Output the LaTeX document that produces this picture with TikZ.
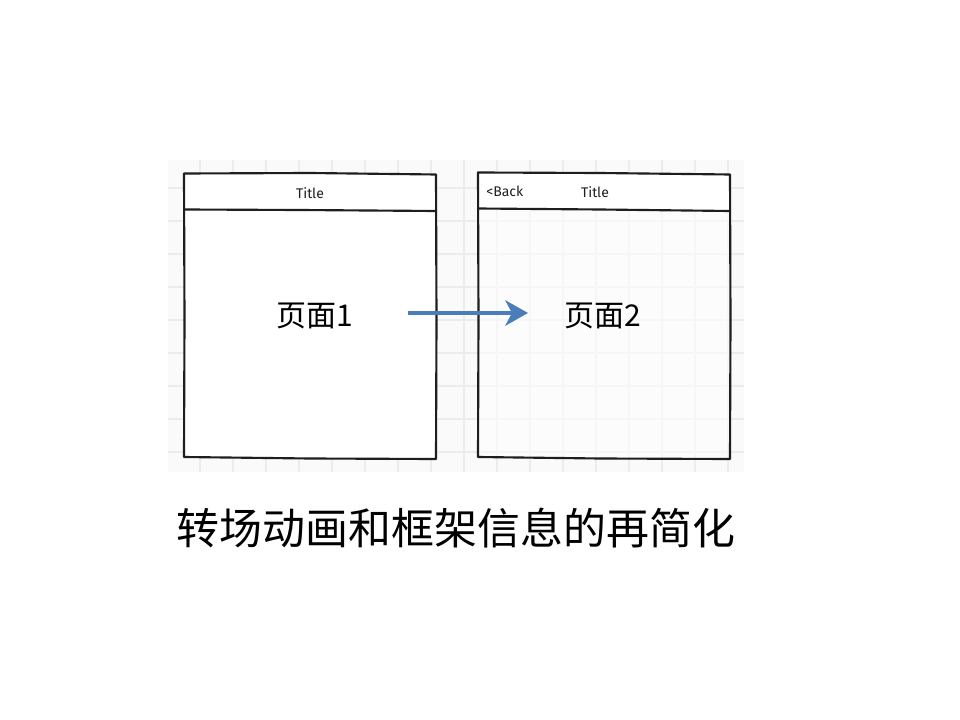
\documentclass[tikz,border=0pt]{standalone}
\usepackage{fontspec}
\newfontfamily\cjk{Noto Sans CJK SC}
\newfontfamily\uifont{Fira Sans}
\usetikzlibrary{arrows.meta}
\definecolor{gridline}{RGB}{236,236,236}
\definecolor{gridbg}{RGB}{250,250,250}
\definecolor{ink}{RGB}{30,30,30}
\definecolor{flow}{RGB}{74,126,187}
\tikzset{
  sketch/.style={draw=ink, line width=1.6pt, line join=round, line cap=round},
  smalltext/.style={font=\uifont\fontsize{10.5}{12}\selectfont, text=ink, inner sep=0pt},
  pagetext/.style={font=\cjk\fontsize{22.5}{26}\selectfont, text=black, inner sep=0pt},
  captiontext/.style={font=\cjk\fontsize{32.2}{38}\selectfont, text=black, inner sep=0pt},
  flowarrow/.style={draw=flow, line width=3pt, -{Stealth[length=17pt,width=19pt,inset=5pt]}}
}
\begin{document}
\begin{tikzpicture}[x=0.75pt,y=-0.75pt]
\useasboundingbox (0,0) rectangle (960,720);
\fill[white] (0,0) rectangle (960,720);

% grid canvas
\fill[gridbg] (168,160) rectangle (744,472);
\foreach \gx in {200,233,...,740} \draw[gridline, line width=0.9pt] (\gx,160) -- (\gx,472);
\foreach \gy in {188,221,...,470} \draw[gridline, line width=0.9pt] (168,\gy) -- (744,\gy);

% first page: opaque body
\fill[white] (184,174) -- (436,174) -- (436,459) -- (184,457) -- cycle;
\draw[sketch] (184,173.5) -- (310,173) -- (436,174.5) -- (436.5,320) -- (436,459)
  -- (310,458.5) -- (184,457) -- (184.5,320) -- cycle;
\draw[sketch] (184,209.5) -- (300,210) -- (436,211);

% second page: translucent body
\fill[white, fill opacity=0.55] (478,173) -- (730,174) -- (730,459) -- (478,457) -- cycle;
\fill[white] (478,173) -- (730,174) -- (730,211) -- (478,208.5) -- cycle;
\draw[sketch] (478,172.5) -- (600,173) -- (730,174.5) -- (730.5,320) -- (730,459)
  -- (600,458.5) -- (478,457) -- (478.5,320) -- cycle;
\draw[sketch] (478,208.5) -- (600,209.5) -- (730,211);

% header labels
\node[smalltext] (title1) at (310,193) {Title};
\node[smalltext, anchor=west] (back) at (486,191.5) {<Back};
\node[smalltext] (title2) at (595,192) {Title};

% page labels
\node[pagetext] (page1) at (315,316) {页面1};
\node[pagetext] (page2) at (603,316) {页面2};

% transition arrow
\coordinate (arrowstart) at (408,313);
\coordinate (arrowend) at (528,313);
\draw[flowarrow] (arrowstart) -- (arrowend);

% caption
\node[captiontext] (caption) at (456,528) {转场动画和框架信息的再简化};
\end{tikzpicture}
\end{document}
